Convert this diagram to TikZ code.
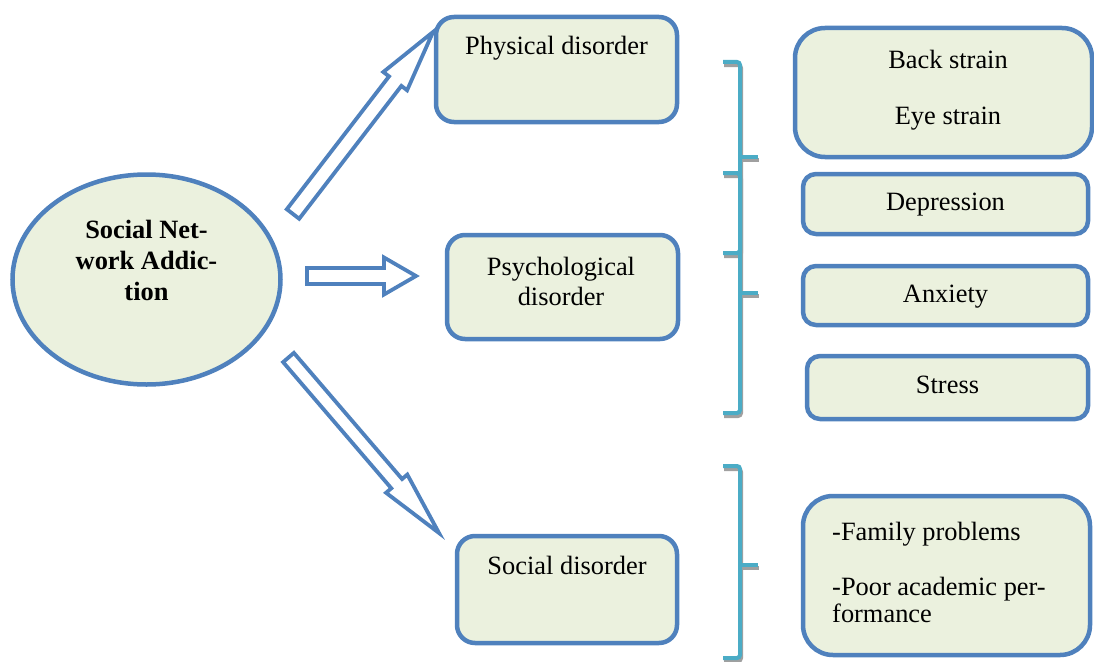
\documentclass[tikz,border=0pt]{standalone}
\usepackage{fontspec}
\setmainfont{Liberation Serif}
\usetikzlibrary{shapes.geometric,calc}
\definecolor{bord}{HTML}{4F81BD}
\definecolor{boxfill}{HTML}{EBF1DE}
\definecolor{brk}{HTML}{4BACC6}
\definecolor{brkshadow}{HTML}{A0A0A0}
\newcommand\blockarr[5]{% start, end, shaft half width, head half width, head length
  \coordinate (#1-h) at ($(#2)!#5!(#1)$);
  \draw[barrow] ($(#1)!#3!90:(#2)$) -- ($(#1-h)!#3!90:(#2)$) -- ($(#1-h)!#4!90:(#2)$)
    -- (#2) -- ($(#1-h)!#4!-90:(#2)$) -- ($(#1-h)!#3!-90:(#2)$) -- ($(#1)!#3!-90:(#2)$) -- cycle;
}
\begin{document}
\begin{tikzpicture}[x=1pt,y=-1pt,
  box/.style={draw=bord, fill=boxfill, line width=4.5pt, rounded corners=18pt, inner sep=0pt},
  bigbox/.style={box, rounded corners=30pt},
  smallbox/.style={box, rounded corners=13pt},
  oval/.style={ellipse, draw=bord, fill=boxfill, line width=4.5pt, inner sep=0pt},
  txt/.style={inner sep=0pt, font=\fontsize{26.4}{30}\selectfont, text=black},
  barrow/.style={draw=bord, line width=3.8pt, fill=white, line join=miter},
  brace/.style={draw=brk, line width=4pt, rounded corners=3pt},
  braceshadow/.style={draw=brkshadow, line width=4pt, rounded corners=3pt}
]
\useasboundingbox (0,0) rectangle (1094,661);

% centre ellipse
\node[oval, minimum width=268pt, minimum height=210pt] (sna) at (146.5,279.5) {};
\node[txt, font=\fontsize{26.4}{31}\selectfont\bfseries, align=center, anchor=north] (snaT) at (146.5,220) {Social Net-\\work Addic-\\tion};

% middle boxes
\node[box, minimum width=241pt, minimum height=105pt] (phys) at (556.5,69.5) {};
\node[txt, anchor=base] (physT) at (556.5,55) {Physical disorder};
\node[box, minimum width=231pt, minimum height=104pt] (psy) at (562.5,287) {};
\node[txt, align=center, anchor=north] (psyT) at (561,257) {Psychological\\disorder};
\node[box, minimum width=220pt, minimum height=107pt] (soc) at (567,589.5) {};
\node[txt, anchor=base] (socT) at (567,574) {Social disorder};

% right boxes
\node[bigbox, minimum width=297pt, minimum height=129pt] (back) at (943.5,92.5) {};
\node[txt, align=center, anchor=north] (backT) at (948,50) {Back strain\\[26pt]Eye strain};
\node[smallbox, minimum width=285pt, minimum height=60pt] (dep) at (945.5,204) {};
\node[txt, anchor=base] (depT) at (945.5,210) {Depression};
\node[smallbox, minimum width=285pt, minimum height=59pt] (anx) at (945.5,295.5) {};
\node[txt, anchor=base] (anxT) at (945.5,302) {Anxiety};
\node[smallbox, minimum width=281pt, minimum height=63pt] (str) at (947.5,387.5) {};
\node[txt, anchor=base] (strT) at (947.5,393) {Stress};
\node[bigbox, minimum width=287pt, minimum height=159pt] (fam) at (946.5,575.5) {};
\node[txt, font=\fontsize{26.4}{27}\selectfont, align=left, anchor=north west] (famT) at (832,522) {-Family problems\\[28pt]-Poor academic per-\\formance};

% block arrows
\coordinate (a1s) at (293,214); \coordinate (a1e) at (433,32);
\coordinate (a2s) at (307,276); \coordinate (a2e) at (416,276);
\coordinate (a3s) at (288.5,357.5); \coordinate (a3e) at (439,533);
\blockarr{a1s}{a1e}{7.8pt}{15pt}{62pt}
\blockarr{a2s}{a2e}{8pt}{18.5pt}{32pt}
\blockarr{a3s}{a3e}{7.1pt}{14pt}{65pt}

% brackets
\begin{scope}[shift={(1,3)}]
  \draw[braceshadow] (723,62) -- (740,62) -- (740,253) -- (723,253);
  \draw[braceshadow] (740,157) -- (758,157);
  \draw[braceshadow] (723,173) -- (740,173) -- (740,413) -- (723,413);
  \draw[braceshadow] (740,293) -- (758,293);
  \draw[braceshadow] (723,466) -- (740,466) -- (740,658) -- (723,658);
  \draw[braceshadow] (740,565) -- (758,565);
\end{scope}
\draw[brace] (723,62) -- (740,62) -- (740,253) -- (723,253);
\draw[brace] (740,157) -- (758,157);
\draw[brace] (723,173) -- (740,173) -- (740,413) -- (723,413);
\draw[brace] (740,293) -- (758,293);
\draw[brace] (723,466) -- (740,466) -- (740,658) -- (723,658);
\draw[brace] (740,565) -- (758,565);
\end{tikzpicture}
\end{document}
